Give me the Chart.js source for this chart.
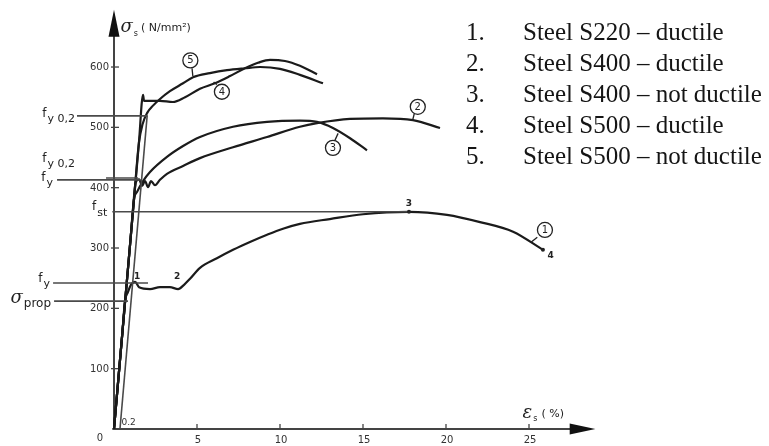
<!DOCTYPE html>
<html>
<head>
<meta charset="utf-8">
<script src="https://cdn.jsdelivr.net/npm/chart.js@4"></script>
<style>
  html, body { margin: 0; padding: 0; background: #fff; }
</style>
</head>
<body>
<canvas id="stressStrain" width="769" height="446"></canvas>
<script>
// strain in %, stress in N/mm2

// 1. Steel S220 - ductile
const s220Strain = [0, 0.5, 0.66, 0.84, 1.02, 1.27, 1.51, 2.17, 2.77, 3.37, 3.86, 4.22, 4.58, 5.18, 6.2, 7.17, 8.19, 9.22, 10.18, 11.2, 13.0, 15.0, 17.77, 20.06, 22.05, 24.04, 25.84];
const s220Stress = [0, 158, 212, 227, 239, 244, 235, 232, 235, 235, 232, 239, 249, 267, 283, 297, 310, 322, 332, 340, 348, 356, 360, 355, 343, 327, 297];

// 2. Steel S400 - ductile
const s400dStrain = [0, 1.1, 1.3, 1.51, 1.69, 1.87, 2.05, 2.23, 2.47, 2.77, 3.19, 4.16, 5.18, 7.17, 9.22, 11.2, 12.23, 14.22, 16.2, 18.01, 19.64];
const s400dStress = [0, 348, 408, 414, 403, 411, 401, 411, 404, 413, 423, 436, 449, 467, 484, 501, 507, 514, 515, 512, 499];

// 3. Steel S400 - not ductile
const s400nStrain = [0, 1.0, 1.2, 1.39, 1.75, 2.17, 3.19, 4.16, 5.18, 7.17, 9.22, 11.2, 12.23, 13.19, 14.22, 15.24];
const s400nStress = [0, 316, 380, 393, 411, 426, 451, 469, 484, 501, 509, 511, 509, 499, 482, 462];

// 4. Steel S500 - ductile
const s500dStrain = [0, 1.5, 1.75, 1.81, 2.77, 3.55, 4.28, 5.18, 6.08, 6.99, 7.89, 8.67, 9.4, 10.3, 11.2, 12.23];
const s500dStress = [0, 474, 554, 544, 544, 542, 550, 564, 573, 585, 598, 607, 612, 610, 602, 588];

// 5. Steel S500 - not ductile
const s500nStrain = [0, 1.2, 1.5, 1.72, 2.0, 2.35, 2.77, 3.37, 4.16, 4.76, 5.78, 6.81, 7.89, 8.8, 10.0, 11.2, 12.59];
const s500nStress = [0, 379, 474, 505, 524, 536, 547, 560, 573, 583, 590, 595, 598, 600, 597, 587, 573];

// 0.2 % offset line and the marked stress levels
const offsetStrain = [0.36, 2.0];
const offsetStress = [0, 520];
const fy02UpperStrain = [-2.23, 2.0];
const fy02UpperStress = [519, 519];
const fy02LowerStrain = [-2.23, -0.48, -0.48, 1.45];
const fy02LowerStress = [444, 444, 416, 416];
const fyS400Strain = [-3.43, 1.6];
const fyS400Stress = [413, 413];
const fstStrain = [-0.1, 17.77];
const fstStress = [360, 360];
const fyS220Strain = [-3.67, 2.05];
const fyS220Stress = [242, 242];
const propStrain = [-3.61, 0.84];
const propStress = [212, 212];

// axes
const yTicks = [100, 200, 300, 400, 500, 600];
const xTicks = [5, 10, 15, 20, 25];
const xMax = 29;
const yMax = 700;

// legend on the right
const legendNumbers = ['1.', '2.', '3.', '4.', '5.'];
const legendNames = [
    'Steel S220 \u2013 ductile',
    'Steel S400 \u2013 ductile',
    'Steel S400 \u2013 not ductile',
    'Steel S500 \u2013 ductile',
    'Steel S500 \u2013 not ductile'
];

// zip two arrays into {x, y} points
function toPoints(xs, ys)
{
    return xs.map((x, i) => ({ x: x, y: ys[i] }));
}

function curve(xs, ys)
{
    return {
        data: toPoints(xs, ys),
        showLine: true,
        borderColor: '#1b1b1b',
        borderWidth: 2.2,
        pointRadius: 0,
        cubicInterpolationMode: 'monotone',
        clip: false
    };
}

function refLine(xs, ys)
{
    return {
        data: toPoints(xs, ys),
        showLine: true,
        borderColor: '#4a4a4a',
        borderWidth: 1.6,
        pointRadius: 0,
        tension: 0,
        clip: false
    };
}

// text with a lowered subscript, right edge at xRight
function drawSub(c, main, sub, xRight, y, mainFont, subFont, drop)
{
    c.font = subFont;
    const ws = c.measureText(sub).width;
    c.font = mainFont;
    const wm = c.measureText(main).width;
    const x0 = xRight - wm - ws - 1;
    c.textAlign = 'left';
    c.textBaseline = 'middle';
    c.fillText(main, x0, y - 2);
    c.font = subFont;
    c.fillText(sub, x0 + wm + 1, y + drop);
}

// circled curve number with a short leader line
function drawCircleLabel(c, cx, cy, text, lx1, ly1, lx2, ly2)
{
    c.lineWidth = 1.3;
    c.strokeStyle = '#222';
    c.beginPath();
    c.moveTo(lx1, ly1);
    c.lineTo(lx2, ly2);
    c.stroke();
    c.beginPath();
    c.arc(cx, cy, 7.5, 0, Math.PI * 2);
    c.fillStyle = '#fff';
    c.fill();
    c.stroke();
    c.fillStyle = '#222';
    c.font = '10px "DejaVu Sans"';
    c.textAlign = 'center';
    c.textBaseline = 'middle';
    c.fillText(text, cx, cy + 0.5);
}

const decorPlugin = {
    id: 'decor',
    beforeDatasetsDraw(chart)
    {
        const c = chart.ctx;
        const px = v => chart.scales.x.getPixelForValue(v);
        const py = v => chart.scales.y.getPixelForValue(v);
        c.save();
        c.strokeStyle = '#444';
        c.fillStyle = '#111';
        c.lineWidth = 2;

        // y axis with arrow
        c.beginPath();
        c.moveTo(px(0), py(0) + 1);
        c.lineTo(px(0), py(660));
        c.stroke();
        c.beginPath();
        c.moveTo(px(0), py(695));
        c.lineTo(px(0) - 5.5, py(650));
        c.lineTo(px(0) + 5.5, py(650));
        c.closePath();
        c.fill();

        // x axis with arrow
        c.beginPath();
        c.moveTo(px(-0.1), py(0));
        c.lineTo(px(27.6), py(0));
        c.stroke();
        c.beginPath();
        c.moveTo(px(xMax), py(0));
        c.lineTo(px(27.45), py(0) - 5.5);
        c.lineTo(px(27.45), py(0) + 5.5);
        c.closePath();
        c.fill();

        // ticks and tick labels
        c.lineWidth = 1.3;
        c.fillStyle = '#333';
        c.font = '10px "DejaVu Sans"';
        c.textAlign = 'right';
        c.textBaseline = 'middle';
        yTicks.forEach(t => {
            c.beginPath();
            c.moveTo(px(0) - 3, py(t));
            c.lineTo(px(0) + 5, py(t));
            c.stroke();
            c.fillText(String(t), px(0) - 5, py(t) + 0.5);
        });
        c.textAlign = 'center';
        xTicks.forEach(t => {
            c.beginPath();
            c.moveTo(px(t), py(0));
            c.lineTo(px(t), py(0) - 5);
            c.stroke();
            c.fillText(String(t), px(t) + 1, py(0) + 11);
        });
        c.fillText('0', px(0) - 14, py(0) + 9);
        c.font = '9px "DejaVu Sans"';
        c.textAlign = 'left';
        c.fillText('0.2', px(0.45), py(0) - 6);
        c.restore();
    },
    afterDatasetsDraw(chart)
    {
        const c = chart.ctx;
        const px = v => chart.scales.x.getPixelForValue(v);
        const py = v => chart.scales.y.getPixelForValue(v);
        c.save();
        c.fillStyle = '#222';

        // axis titles
        drawSub(c, '\u03C3', 's', px(0) + 24, py(662), 'italic 18px "DejaVu Serif"', '8px "DejaVu Sans"', 4);
        c.font = '11px "DejaVu Sans"';
        c.textAlign = 'left';
        c.textBaseline = 'middle';
        c.fillText('( N/mm\u00B2)', px(0) + 27, py(662) - 1);
        drawSub(c, '\u03B5', 's', px(25.5), py(23), 'italic 18px "DejaVu Serif"', '8px "DejaVu Sans"', 4);
        c.font = '11px "DejaVu Sans"';
        c.textAlign = 'left';
        c.fillText('( %)', px(25.75), py(23) - 1);

        // labels of the marked stress levels
        const mf = '12px "DejaVu Sans"';
        const sf = '11px "DejaVu Sans"';
        c.fillStyle = '#222';
        drawSub(c, 'f', 'y 0,2', px(fy02UpperStrain[0]) - 2, py(fy02UpperStress[0]), mf, sf, 3);
        drawSub(c, 'f', 'y 0,2', px(fy02LowerStrain[0]) - 2, py(fy02LowerStress[0]), mf, sf, 3);
        drawSub(c, 'f', 'y', px(fyS400Strain[0]) - 4, py(fyS400Stress[0]), mf, sf, 3);
        drawSub(c, 'f', 'st', px(-0.4), py(fstStress[0]) - 3, mf, sf, 4);
        drawSub(c, 'f', 'y', px(fyS220Strain[0]) - 3, py(fyS220Stress[0]) - 2, mf, sf, 3);
        drawSub(c, '\u03C3', 'prop', px(propStrain[0]) - 3, py(propStress[0]) - 1, 'italic 18px "DejaVu Serif"', '12px "DejaVu Sans"', 4);

        // small markers on curve 1
        c.font = 'bold 9px "DejaVu Sans"';
        c.textAlign = 'center';
        c.textBaseline = 'middle';
        c.fillText('1', px(1.4), py(252));
        c.fillText('2', px(3.8), py(252));
        c.fillText('3', px(17.77), py(374));
        c.fillText('4', px(26.3), py(288));
        c.beginPath();
        c.arc(px(17.77), py(360), 2, 0, Math.PI * 2);
        c.arc(px(25.84), py(297), 2, 0, Math.PI * 2);
        c.fill();

        // circled curve numbers
        drawCircleLabel(c, px(25.96), py(330), '1', px(25.5), py(318), px(25.1), py(309));
        drawCircleLabel(c, px(18.3), py(534), '2', px(18.1), py(524), px(18.0), py(513));
        drawCircleLabel(c, px(13.19), py(466), '3', px(13.3), py(478), px(13.5), py(490));
        drawCircleLabel(c, px(6.5), py(559), '4', px(6.2), py(571), px(6.0), py(575));
        drawCircleLabel(c, px(4.6), py(611), '5', px(4.7), py(598), px(4.75), py(585));

        // legend
        c.fillStyle = '#151515';
        c.font = '25px "Liberation Serif"';
        c.textAlign = 'left';
        c.textBaseline = 'middle';
        legendNumbers.forEach((n, i) => {
            const y = 33 + i * 31;
            c.fillText(n, 466, y);
            c.fillText(legendNames[i], 523, y);
        });
        c.restore();
    }
};

const ctx = document.getElementById('stressStrain').getContext('2d');

new Chart(ctx,
{
    type: 'scatter',
    data:
    {
        datasets: [
            refLine(offsetStrain, offsetStress),
            refLine(fy02UpperStrain, fy02UpperStress),
            refLine(fy02LowerStrain, fy02LowerStress),
            refLine(fyS400Strain, fyS400Stress),
            refLine(fstStrain, fstStress),
            refLine(fyS220Strain, fyS220Stress),
            refLine(propStrain, propStress),
            curve(s220Strain, s220Stress),
            curve(s400dStrain, s400dStress),
            curve(s400nStrain, s400nStress),
            curve(s500dStrain, s500dStress),
            curve(s500nStrain, s500nStress)
        ]
    },
    options:
    {
        responsive: false,
        animation: false,
        devicePixelRatio: 1,
        layout: { padding: { left: 114, right: 769 - 114 - xMax * 16.6, top: 429 - yMax * 0.6033, bottom: 17 } },
        scales:
        {
            x: { type: 'linear', min: 0, max: xMax, display: false },
            y: { type: 'linear', min: 0, max: yMax, display: false }
        },
        plugins:
        {
            legend: { display: false },
            tooltip: { enabled: false }
        }
    },
    plugins: [decorPlugin]
});
</script>
</body>
</html>
